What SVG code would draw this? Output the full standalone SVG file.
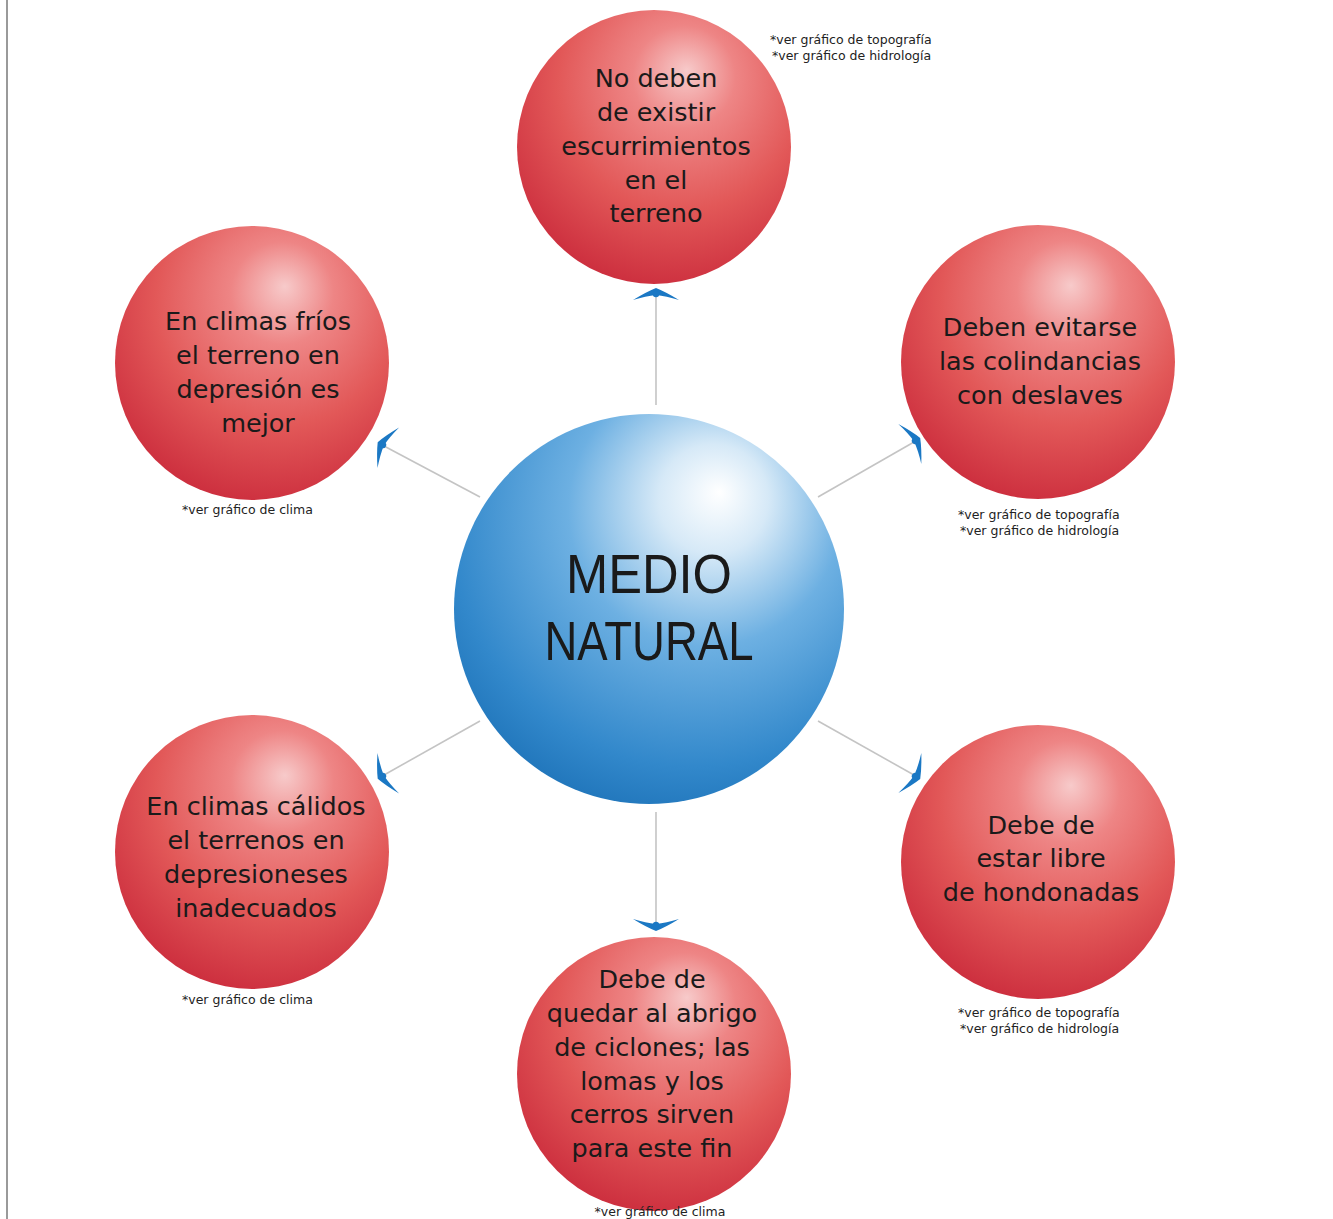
<svg xmlns="http://www.w3.org/2000/svg" width="1333" height="1219" viewBox="0 0 1333 1219">
<defs>
<radialGradient id="red" cx="0.58" cy="0.32" r="0.75" fx="0.62" fy="0.22">
<stop offset="0" stop-color="#f7caca"/>
<stop offset="0.25" stop-color="#ee8585"/>
<stop offset="0.6" stop-color="#e25858"/>
<stop offset="1" stop-color="#c9283a"/>
</radialGradient>
<radialGradient id="blue" cx="0.6" cy="0.3" r="0.78" fx="0.68" fy="0.2">
<stop offset="0" stop-color="#ffffff"/>
<stop offset="0.18" stop-color="#d6e9f7"/>
<stop offset="0.45" stop-color="#6db0e2"/>
<stop offset="0.8" stop-color="#3288cb"/>
<stop offset="1" stop-color="#1b70b6"/>
</radialGradient>
<g id="ah">
<path d="M0,-6 Q10,-2 23,6 Q10,2 0,1 Q-10,2 -23,6 Q-10,-2 0,-6 Z" fill="#1b78c4"/>
<circle cx="0" cy="0" r="3.2" fill="#1b78c4"/>
</g>
</defs>
<style>
.t{font-family:"DejaVu Sans","Liberation Sans",sans-serif;font-size:25.5px;fill:#1a1a1a;text-anchor:middle}
.n{font-family:"DejaVu Sans","Liberation Sans",sans-serif;font-size:12.5px;fill:#222}
.c{font-family:"Liberation Sans","DejaVu Sans",sans-serif;font-size:55px;fill:#1a1a1a;text-anchor:middle}
.ln{stroke:#c4c4c4;stroke-width:1.6;fill:none}
</style>
<rect width="1333" height="1219" fill="#ffffff"/>
<line x1="7" y1="0" x2="7" y2="1219" stroke="#9a9a9a" stroke-width="2"/>
<g id="connectors">
<line class="ln" x1="656" y1="405" x2="656" y2="294"/>
<line class="ln" x1="480" y1="497" x2="384" y2="446"/>
<line class="ln" x1="818" y1="497" x2="914" y2="442"/>
<line class="ln" x1="480" y1="721" x2="384" y2="775"/>
<line class="ln" x1="818" y1="721" x2="914" y2="775"/>
<line class="ln" x1="656" y1="812" x2="656" y2="924"/>
<use href="#ah" transform="translate(656,294)"/>
<use href="#ah" transform="translate(383,445) rotate(-62)"/>
<use href="#ah" transform="translate(915,441) rotate(60)"/>
<use href="#ah" transform="translate(383,776) rotate(-118)"/>
<use href="#ah" transform="translate(915,776) rotate(120)"/>
<use href="#ah" transform="translate(656,925) rotate(180)"/>
</g>
<g id="center">
<circle cx="649" cy="609" r="195" fill="url(#blue)"/>
<text class="c" x="649" y="593" textLength="166" lengthAdjust="spacingAndGlyphs">MEDIO</text>
<text class="c" x="649" y="660" textLength="209" lengthAdjust="spacingAndGlyphs">NATURAL</text>
</g>
<g id="top">
<circle cx="654" cy="147" r="137" fill="url(#red)"/>
<text class="t" x="656" y="87">No deben</text>
<text class="t" x="656" y="121">de existir</text>
<text class="t" x="656" y="155">escurrimientos</text>
<text class="t" x="656" y="189">en el</text>
<text class="t" x="656" y="222">terreno</text>
<text class="n" x="770" y="44">*ver gráfico de topografía</text>
<text class="n" x="772" y="60">*ver gráfico de hidrología</text>
</g>
<g id="upper-left">
<circle cx="252" cy="363" r="137" fill="url(#red)"/>
<text class="t" x="258" y="330">En climas fríos</text>
<text class="t" x="258" y="364">el terreno en</text>
<text class="t" x="258" y="398">depresión es</text>
<text class="t" x="258" y="432">mejor</text>
<text class="n" x="182" y="514">*ver gráfico de clima</text>
</g>
<g id="upper-right">
<circle cx="1038" cy="362" r="137" fill="url(#red)"/>
<text class="t" x="1040" y="336">Deben evitarse</text>
<text class="t" x="1040" y="370">las colindancias</text>
<text class="t" x="1040" y="404">con deslaves</text>
<text class="n" x="958" y="519">*ver gráfico de topografía</text>
<text class="n" x="960" y="535">*ver gráfico de hidrología</text>
</g>
<g id="lower-left">
<circle cx="252" cy="852" r="137" fill="url(#red)"/>
<text class="t" x="256" y="815">En climas cálidos</text>
<text class="t" x="256" y="849">el terrenos en</text>
<text class="t" x="256" y="883">depresioneses</text>
<text class="t" x="256" y="917">inadecuados</text>
<text class="n" x="182" y="1004">*ver gráfico de clima</text>
</g>
<g id="lower-right">
<circle cx="1038" cy="862" r="137" fill="url(#red)"/>
<text class="t" x="1041" y="834">Debe de</text>
<text class="t" x="1041" y="867">estar libre</text>
<text class="t" x="1041" y="901">de hondonadas</text>
<text class="n" x="958" y="1017">*ver gráfico de topografía</text>
<text class="n" x="960" y="1033">*ver gráfico de hidrología</text>
</g>
<g id="bottom">
<circle cx="654" cy="1074" r="137" fill="url(#red)"/>
<text class="t" x="652" y="988">Debe de</text>
<text class="t" x="652" y="1022">quedar al abrigo</text>
<text class="t" x="652" y="1056">de ciclones; las</text>
<text class="t" x="652" y="1090">lomas y los</text>
<text class="t" x="652" y="1123">cerros sirven</text>
<text class="t" x="652" y="1157">para este fin</text>
<text class="n" x="660" y="1216" text-anchor="middle">*ver gráfico de clima</text>
</g>
</svg>
